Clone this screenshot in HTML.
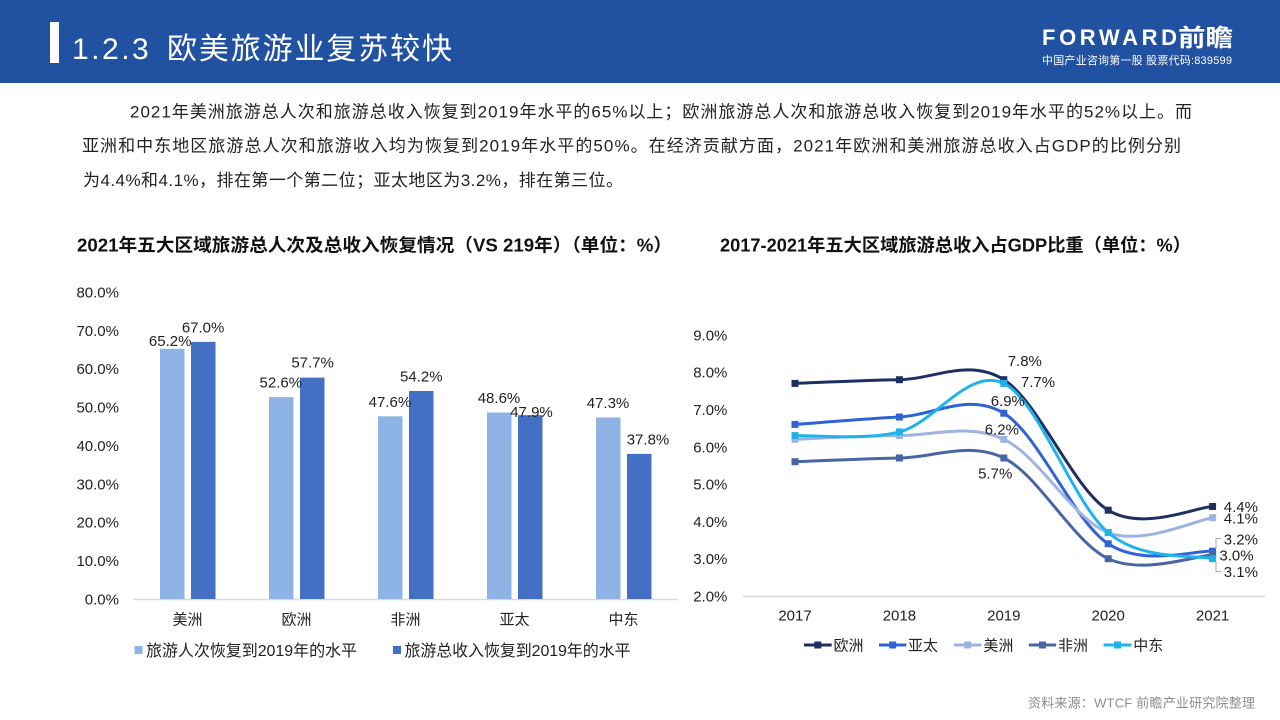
<!DOCTYPE html>
<html><head><meta charset="utf-8">
<style>
html,body{margin:0;padding:0;background:#fff;}
svg{display:block;}
text{font-family:"Liberation Sans","Noto Sans CJK SC",sans-serif;}
</style></head>
<body>
<svg width="1280" height="720" viewBox="0 0 1280 720" xmlns="http://www.w3.org/2000/svg">
<!-- header -->
<rect x="0" y="0" width="1280" height="83" fill="#2151a1"/>
<rect x="50" y="22" width="9" height="41" fill="#ffffff"/>
<text x="72" y="59" font-size="30" fill="#ffffff" letter-spacing="2.5">1.2.3</text>
<text x="167" y="59" font-size="30" fill="#ffffff" textLength="285" lengthAdjust="spacing">欧美旅游业复苏较快</text>
<text x="1042" y="45" font-size="22" font-weight="bold" fill="#ffffff" textLength="135" lengthAdjust="spacing">FORWARD</text>
<text x="1178" y="46" font-size="24" font-weight="bold" fill="#ffffff" textLength="55" lengthAdjust="spacingAndGlyphs">前瞻</text>
<text x="1042" y="64" font-size="11" fill="#ffffff" textLength="190" lengthAdjust="spacing">中国产业咨询第一股 股票代码:839599</text>

<!-- body text -->
<g font-size="17" fill="#222">
<text x="130" y="117.6" textLength="1062" lengthAdjust="spacing">2021年美洲旅游总人次和旅游总收入恢复到2019年水平的65%以上；欧洲旅游总人次和旅游总收入恢复到2019年水平的52%以上。而</text>
<text x="82" y="151.6" textLength="1099" lengthAdjust="spacing">亚洲和中东地区旅游总人次和旅游收入均为恢复到2019年水平的50%。在经济贡献方面，2021年欧洲和美洲旅游总收入占GDP的比例分别</text>
<text x="83" y="186" textLength="540" lengthAdjust="spacing">为4.4%和4.1%，排在第一个第二位；亚太地区为3.2%，排在第三位。</text>
</g>

<!-- chart titles -->
<text x="77" y="251.5" font-size="18" font-weight="bold" fill="#111" textLength="595" lengthAdjust="spacingAndGlyphs">2021年五大区域旅游总人次及总收入恢复情况（VS 219年）（单位：%）</text>
<text x="720" y="251.5" font-size="18" font-weight="bold" fill="#111" textLength="471" lengthAdjust="spacingAndGlyphs">2017-2021年五大区域旅游总收入占GDP比重（单位：%）</text>

<!-- ===== Bar chart ===== -->
<g font-size="15" fill="#222" text-anchor="end">
<text x="119" y="297.4">80.0%</text>
<text x="119" y="335.8">70.0%</text>
<text x="119" y="374.1">60.0%</text>
<text x="119" y="412.5">50.0%</text>
<text x="119" y="450.9">40.0%</text>
<text x="119" y="489.3">30.0%</text>
<text x="119" y="527.6">20.0%</text>
<text x="119" y="566.0">10.0%</text>
<text x="119" y="604.4">0.0%</text>
</g>
<line x1="133" y1="599.5" x2="678" y2="599.5" stroke="#d9d9d9" stroke-width="1.5"/>
<g fill="#8eb4e6">
<rect x="160" y="348.8" width="24.5" height="250.2"/>
<rect x="269" y="397.1" width="24.5" height="201.9"/>
<rect x="378" y="416.3" width="24.5" height="182.7"/>
<rect x="487" y="412.5" width="24.5" height="186.5"/>
<rect x="596" y="417.5" width="24.5" height="181.5"/>
</g>
<g fill="#4370c3">
<rect x="191" y="341.9" width="24.5" height="257.1"/>
<rect x="300" y="377.6" width="24.5" height="221.4"/>
<rect x="409" y="391.0" width="24.5" height="208.0"/>
<rect x="518" y="415.2" width="24.5" height="183.8"/>
<rect x="627" y="453.9" width="24.5" height="145.1"/>
</g>
<g font-size="15" fill="#222" text-anchor="middle">
<text x="170.2" y="346">65.2%</text>
<text x="203.1" y="332.5">67.0%</text>
<text x="280.8" y="387.5">52.6%</text>
<text x="312.6" y="367.5">57.7%</text>
<text x="389.9" y="407">47.6%</text>
<text x="421.3" y="381.3">54.2%</text>
<text x="499" y="403">48.6%</text>
<text x="531.5" y="417">47.9%</text>
<text x="608" y="408">47.3%</text>
<text x="648" y="444.5">37.8%</text>
</g>
<g font-size="15" fill="#222" text-anchor="middle">
<text x="187.5" y="624.5">美洲</text>
<text x="296.5" y="624.5">欧洲</text>
<text x="405.5" y="624.5">非洲</text>
<text x="514.5" y="624.5">亚太</text>
<text x="623.5" y="624.5">中东</text>
</g>
<rect x="134.5" y="646" width="8" height="8" fill="#8eb4e6"/>
<text x="146" y="656" font-size="16" fill="#222" textLength="211" lengthAdjust="spacing">旅游人次恢复到2019年的水平</text>
<rect x="393" y="646" width="8" height="8" fill="#4370c3"/>
<text x="404.5" y="656" font-size="16" fill="#222" textLength="226" lengthAdjust="spacing">旅游总收入恢复到2019年的水平</text>

<!-- ===== Line chart ===== -->
<g font-size="15" fill="#222" text-anchor="end">
<text x="727.4" y="340.4">9.0%</text>
<text x="727.4" y="377.7">8.0%</text>
<text x="727.4" y="415.0">7.0%</text>
<text x="727.4" y="452.3">6.0%</text>
<text x="727.4" y="489.6">5.0%</text>
<text x="727.4" y="526.9">4.0%</text>
<text x="727.4" y="564.2">3.0%</text>
<text x="727.4" y="601.5">2.0%</text>
</g>
<line x1="743" y1="596.5" x2="1265" y2="596.5" stroke="#d9d9d9" stroke-width="1.5"/>
<g font-size="15" fill="#222" text-anchor="middle">
<text x="795" y="620.4">2017</text>
<text x="899.4" y="620.4">2018</text>
<text x="1003.8" y="620.4">2019</text>
<text x="1108.2" y="620.4">2020</text>
<text x="1212.6" y="620.4">2021</text>
</g>
<g fill="none" stroke-width="3" stroke-linejoin="round">
<path stroke="#1f2f62" d="M795,383.4 C812.4,382.8 864.6,380.3 899.4,379.7 C934.2,379.1 969,358.0 1003.8,379.7 C1038.6,401.5 1073.4,489.1 1108.2,510.2 C1143,531.3 1195.2,507.1 1212.6,506.5"/>
<path stroke="#2f63d3" d="M795,424.4 C812.4,423.2 864.6,418.9 899.4,417.0 C934.2,415.1 969,392.1 1003.8,413.2 C1038.6,434.3 1073.4,520.8 1108.2,543.8 C1143,566.8 1195.2,550.0 1212.6,551.2"/>
<path stroke="#9db3e2" d="M795,439.3 C812.4,438.7 864.6,435.6 899.4,435.6 C934.2,435.6 969,423.1 1003.8,439.3 C1038.6,455.5 1073.4,519.5 1108.2,532.6 C1143,545.7 1195.2,520.2 1212.6,517.7"/>
<path stroke="#4866a6" d="M795,461.7 C812.4,461.1 864.6,458.6 899.4,458.0 C934.2,457.4 969,441.2 1003.8,458.0 C1038.6,474.8 1073.4,542.5 1108.2,558.7 C1143,574.9 1195.2,555.6 1212.6,555.0"/>
<path stroke="#1fb4e9" d="M795,435.6 C812.4,435.0 864.6,440.6 899.4,431.9 C934.2,423.2 969,366.6 1003.8,383.4 C1038.6,400.2 1073.4,503.4 1108.2,532.6 C1143,561.8 1195.2,554.4 1212.6,558.7"/>
</g>
<!-- markers -->
<g fill="#1f2f62">
<rect x="791.5" y="379.9" width="7" height="7"/><rect x="895.9" y="376.2" width="7" height="7"/><rect x="1000.3" y="376.2" width="7" height="7"/><rect x="1104.7" y="506.7" width="7" height="7"/><rect x="1209.1" y="503" width="7" height="7"/>
</g>
<g fill="#2f63d3">
<rect x="791.5" y="420.9" width="7" height="7"/><rect x="895.9" y="413.5" width="7" height="7"/><rect x="1000.3" y="409.7" width="7" height="7"/><rect x="1104.7" y="540.3" width="7" height="7"/><rect x="1209.1" y="547.7" width="7" height="7"/>
</g>
<g fill="#9db3e2">
<rect x="791.5" y="435.8" width="7" height="7"/><rect x="895.9" y="432.1" width="7" height="7"/><rect x="1000.3" y="435.8" width="7" height="7"/><rect x="1104.7" y="529.1" width="7" height="7"/><rect x="1209.1" y="514.2" width="7" height="7"/>
</g>
<g fill="#4866a6">
<rect x="791.5" y="458.2" width="7" height="7"/><rect x="895.9" y="454.5" width="7" height="7"/><rect x="1000.3" y="454.5" width="7" height="7"/><rect x="1104.7" y="555.2" width="7" height="7"/><rect x="1209.1" y="551.5" width="7" height="7"/>
</g>
<g fill="#1fb4e9">
<rect x="791.5" y="432.1" width="7" height="7"/><rect x="895.9" y="428.4" width="7" height="7"/><rect x="1000.3" y="379.9" width="7" height="7"/><rect x="1104.7" y="529.1" width="7" height="7"/><rect x="1209.1" y="555.2" width="7" height="7"/>
</g>
<!-- data labels -->
<g font-size="15" fill="#222" text-anchor="middle">
<text x="1024.8" y="366">7.8%</text>
<text x="1038" y="387">7.7%</text>
<text x="1007.8" y="406">6.9%</text>
<text x="1001.9" y="434.3">6.2%</text>
<text x="995.2" y="478.6">5.7%</text>
</g>
<g font-size="15" fill="#222">
<text x="1223.8" y="512">4.4%</text>
<text x="1223.8" y="523.6">4.1%</text>
<text x="1223.8" y="544.6">3.2%</text>
<text x="1219.4" y="560.5">3.0%</text>
<text x="1223.8" y="577">3.1%</text>
</g>
<g fill="none" stroke="#a6a6a6" stroke-width="1">
<polyline points="1221,538.5 1216,538.5 1216,549"/>
<polyline points="1216,561 1216,571.5 1221,571.5"/>
</g>
<!-- legend -->
<g stroke-width="3">
<line x1="804" y1="645" x2="831.7" y2="645" stroke="#1f2f62"/>
<line x1="879" y1="645" x2="906.4" y2="645" stroke="#2f63d3"/>
<line x1="953.8" y1="645" x2="981.5" y2="645" stroke="#9db3e2"/>
<line x1="1028.9" y1="645" x2="1056.2" y2="645" stroke="#4866a6"/>
<line x1="1103.6" y1="645" x2="1131.4" y2="645" stroke="#1fb4e9"/>
</g>
<rect x="814.3" y="641.5" width="7" height="7" fill="#1f2f62"/>
<rect x="889.2" y="641.5" width="7" height="7" fill="#2f63d3"/>
<rect x="964.2" y="641.5" width="7" height="7" fill="#9db3e2"/>
<rect x="1039" y="641.5" width="7" height="7" fill="#4866a6"/>
<rect x="1114" y="641.5" width="7" height="7" fill="#1fb4e9"/>
<g font-size="15" fill="#222">
<text x="833.5" y="650.4">欧洲</text>
<text x="908" y="650.4">亚太</text>
<text x="983.4" y="650.4">美洲</text>
<text x="1058" y="650.4">非洲</text>
<text x="1133.2" y="650.4">中东</text>
</g>

<!-- source -->
<text x="1028" y="707.7" font-size="13" fill="#8c8c8c" textLength="227" lengthAdjust="spacing">资料来源：WTCF 前瞻产业研究院整理</text>
</svg>
</body></html>
